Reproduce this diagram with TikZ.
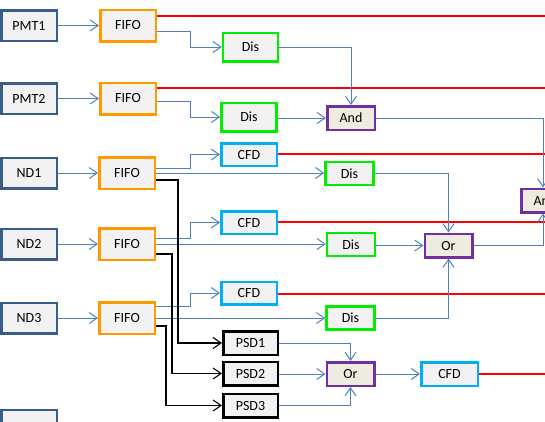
\documentclass[tikz,border=0pt]{standalone}
\usepackage{fontspec}
\setmainfont{Carlito}
\usetikzlibrary{arrows.meta}
\definecolor{boxfill}{HTML}{F2F2F2}
\definecolor{gatefill}{HTML}{EEECE1}
\definecolor{inblue}{HTML}{385D8A}
\definecolor{fifoorange}{HTML}{FF9900}
\definecolor{disgreen}{HTML}{00EE00}
\definecolor{cfdblue}{HTML}{00B0F0}
\definecolor{gatepurple}{HTML}{7030A0}
\definecolor{wireblue}{HTML}{4F81BD}
\definecolor{wirered}{HTML}{FF0000}
\begin{document}
\begin{tikzpicture}[x=1pt,y=-1pt,
  base/.style={draw, line width=2.5pt, fill=boxfill, inner sep=0pt, font=\fontsize{14}{16}\selectfont, text=black},
  inbox/.style={base, draw=inblue, minimum width=55.5pt, minimum height=30.5pt},
  fifobox/.style={base, draw=fifoorange, minimum width=55.5pt, minimum height=31.5pt},
  disbig/.style={base, draw=disgreen, minimum width=55pt, minimum height=28.5pt},
  dissmall/.style={base, draw=disgreen, minimum width=48pt, minimum height=23pt},
  cfdbox/.style={base, draw=cfdblue, minimum width=55.5pt, minimum height=22.5pt},
  psdbox/.style={base, draw=black, minimum width=54.5pt, minimum height=23.5pt},
  gatebox/.style={base, draw=gatepurple, fill=gatefill, minimum width=47.5pt, minimum height=23.5pt},
  bwire/.style={draw=wireblue, line width=1pt, -{Straight Barb[length=8pt,width=11pt]}},
  bline/.style={draw=wireblue, line width=1pt},
  kwire/.style={draw=black, line width=1.1pt, -{Straight Barb[length=8pt,width=11pt]}},
  rwire/.style={draw=wirered, line width=1.4pt}
]
\useasboundingbox (0,0) rectangle (545,421);
\clip (0,0) rectangle (545,421);

% inputs
\node[inbox] (PMT1) at (29,25.5) {PMT1};
\node[inbox] (PMT2) at (29,98.5) {PMT2};
\node[inbox] (ND1) at (29,173) {ND1};
\node[inbox] (ND2) at (29,244) {ND2};
\node[inbox] (ND3) at (29,318) {ND3};
\node[inbox] (ND4) at (29,425) {};

% FIFOs
\node[fifobox] (FIFO1) at (128,25.5) {FIFO};
\node[fifobox] (FIFO2) at (128,98.5) {FIFO};
\node[fifobox] (FIFO3) at (127,173) {FIFO};
\node[fifobox] (FIFO4) at (127,244) {FIFO};
\node[fifobox] (FIFO5) at (127,318) {FIFO};

% discriminators and CFDs
\node[disbig] (Dis1) at (250.5,47) {Dis};
\node[disbig] (Dis2) at (249,117) {Dis};
\node[cfdbox] (CFD1) at (249,154.5) {CFD};
\node[dissmall] (Dis3) at (349.5,173.5) {Dis};
\node[cfdbox] (CFD2) at (249,222.5) {CFD};
\node[dissmall] (Dis4) at (351,244.5) {Dis};
\node[cfdbox] (CFD3) at (249,293) {CFD};
\node[dissmall] (Dis5) at (350.5,318) {Dis};

% PSDs
\node[psdbox] (PSD1) at (250.5,343) {PSD1};
\node[psdbox] (PSD2) at (250.5,373.5) {PSD2};
\node[psdbox] (PSD3) at (250.5,405.5) {PSD3};

% gates
\node[gatebox] (And1) at (351,118) {And};
\node[gatebox] (Or1) at (448.5,245.5) {Or};
\node[gatebox] (Or2) at (350.5,374) {Or};
\node[cfdbox, minimum width=56.5pt, minimum height=23.5pt] (CFD4) at (449.5,374) {CFD};
\node[gatebox] (And2) at (545,200.5) {And};

% red free ends
\coordinate (r1) at (548,16);
\coordinate (r2) at (548,88);
\coordinate (r3) at (548,154);
\coordinate (r4) at (548,222);
\coordinate (r5) at (548,294);
\coordinate (r6) at (548,374);

% input -> FIFO
\draw[bwire] (PMT1) -- (FIFO1);
\draw[bwire] (PMT2) -- (FIFO2);
\draw[bwire] (ND1) -- (FIFO3);
\draw[bwire] (ND2) -- (FIFO4);
\draw[bwire] (ND3) -- (FIFO5);

% red outputs
\draw[rwire] (FIFO1.east |- r1) -- (r1);
\draw[rwire] (FIFO2.east |- r2) -- (r2);
\draw[rwire] (CFD1.east |- r3) -- (r3);
\draw[rwire] (CFD2.east |- r4) -- (r4);
\draw[rwire] (CFD3.east |- r5) -- (r5);
\draw[rwire] (CFD4.east |- r6) -- (r6);

% FIFO -> Dis / CFD
\draw[bwire] ([yshift=-6pt]FIFO1.east) -- ++(33,0) |- (Dis1.west);
\draw[bwire] ([yshift=-3pt]FIFO2.east) -- ++(33,0) |- (Dis2.west);
\draw[bwire] ([yshift=5pt]FIFO3.east) -- ++(34,0) |- (CFD1.west);
\draw[bwire] (FIFO3.east) -- (FIFO3.east -| Dis3.west);
\draw[bwire] ([yshift=6pt]FIFO4.east) -- ++(34,0) |- (CFD2.west);
\draw[bwire] (FIFO4.east) -- (FIFO4.east -| Dis4.west);
\draw[bwire] ([yshift=12pt]FIFO5.east) -- ++(34,0) |- (CFD3.west);
\draw[bwire] (FIFO5.east) -- (FIFO5.east -| Dis5.west);

% FIFO -> PSD
\draw[kwire] ([yshift=-7pt]FIFO3.east) -- ++(22,0) |- (PSD1.west);
\draw[kwire] ([yshift=-10pt]FIFO4.east) -- ++(16,0) |- (PSD2.west);
\draw[kwire] ([yshift=-8pt]FIFO5.east) -- ++(10,0) |- (PSD3.west);

% Dis -> gates
\draw[bwire] (Dis1.east) -| (And1.north);
\draw[bwire] (Dis2.east |- And1.west) -- (And1.west);
\draw[bwire] (Dis3.east) -| (Or1.north);
\draw[bwire] (Dis4.east |- Or1.west) -- (Or1.west);
\draw[bwire] (Dis5.east) -| (Or1.south);

% PSD -> Or2 -> CFD4
\draw[bwire] (PSD1.east) -| (Or2.north);
\draw[bwire] (PSD2.east |- Or2.west) -- (Or2.west);
\draw[bwire] (PSD3.east) -| (Or2.south);
\draw[bwire] (Or2) -- (CFD4);

% gates -> And2
\draw[bwire] (And1.east) -| ([xshift=-2pt]And2.north);
\draw[bwire] (Or1.east) -| ([xshift=-2pt]And2.south);
\end{tikzpicture}
\end{document}
